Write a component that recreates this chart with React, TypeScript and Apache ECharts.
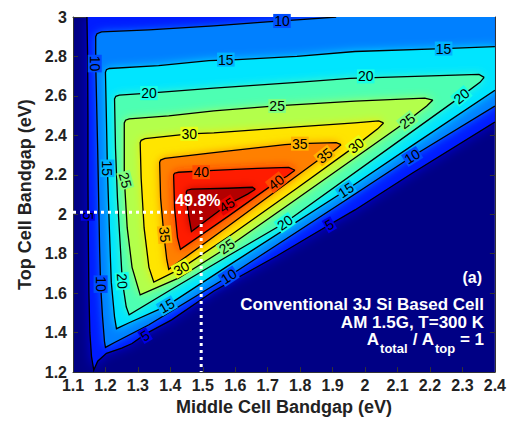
import React, { useEffect, useRef } from 'react';
import * as echarts from 'echarts';

const FONT = "'Liberation Sans', Arial, Helvetica, sans-serif";

// contour levels (efficiency %)
const levels = [5, 10, 15, 20, 25, 30, 35, 40, 45];

// contour lines: [middle cell Eg (eV), top cell Eg (eV)]
const c5 = [[1.143, 3.0], [1.145, 2.8], [1.146, 2.5], [1.146, 2.2], [1.147, 1.9], [1.149, 1.6], [1.152, 1.4], [1.157, 1.28], [1.164, 1.21], [1.176, 1.255], [1.203, 1.295], [1.25, 1.322], [1.282, 1.345], [1.325, 1.395], [1.404, 1.465], [1.534, 1.611], [1.729, 1.79], [1.89, 1.947], [1.969, 2.022], [2.145, 2.208], [2.4, 2.468]];
const c10 = [[1.911, 3.0], [1.79, 2.985], [1.698, 2.975], [1.534, 2.955], [1.334, 2.935], [1.188, 2.925], [1.174, 2.915], [1.17, 2.9], [1.17, 2.764], [1.176, 2.333], [1.182, 1.832], [1.185, 1.646], [1.191, 1.48], [1.197, 1.355], [1.2, 1.325], [1.228, 1.35], [1.334, 1.44], [1.58, 1.686], [1.941, 2.072], [2.145, 2.293], [2.4, 2.549]];
const c15 = [[2.4, 2.85], [2.242, 2.84], [1.969, 2.825], [1.79, 2.8], [1.607, 2.784], [1.519, 2.779], [1.364, 2.754], [1.212, 2.739], [1.203, 2.733], [1.2, 2.72], [1.203, 2.483], [1.206, 2.233], [1.212, 1.932], [1.218, 1.656], [1.228, 1.48], [1.234, 1.42], [1.273, 1.45], [1.389, 1.536], [1.58, 1.741], [1.941, 2.122], [2.154, 2.358], [2.4, 2.629]];
const c20 = [[2.367, 2.694], [2.351, 2.709], [2.154, 2.699], [1.954, 2.689], [1.79, 2.669], [1.534, 2.639], [1.334, 2.614], [1.243, 2.604], [1.232, 2.598], [1.228, 2.585], [1.231, 2.333], [1.237, 2.082], [1.246, 1.832], [1.252, 1.661], [1.264, 1.531], [1.273, 1.49], [1.395, 1.611], [1.58, 1.791], [1.753, 1.957], [2.093, 2.358], [2.297, 2.599], [2.354, 2.669], [2.367, 2.694]];
const c25 = [[2.209, 2.579], [2.184, 2.589], [1.969, 2.574], [1.726, 2.549], [1.534, 2.524], [1.395, 2.4985], [1.273, 2.4835], [1.262, 2.477], [1.258, 2.463], [1.258, 2.1825], [1.267, 1.932], [1.282, 1.731], [1.307, 1.591], [1.425, 1.676], [1.58, 1.8365], [1.79, 2.079], [2.13, 2.473], [2.19, 2.549], [2.209, 2.579]];
const c30 = [[2.057, 2.463], [2.042, 2.473], [1.969, 2.463], [1.79, 2.443], [1.534, 2.413], [1.458, 2.408], [1.322, 2.383], [1.31, 2.375], [1.307, 2.363], [1.31, 2.1825], [1.319, 1.932], [1.334, 1.731], [1.349, 1.656], [1.434, 1.726], [1.58, 1.887], [1.79, 2.132], [1.972, 2.348], [2.039, 2.433], [2.057, 2.463]];
const c35 = [[1.926, 2.353], [1.911, 2.363], [1.799, 2.358], [1.753, 2.353], [1.534, 2.313], [1.383, 2.283], [1.37, 2.275], [1.367, 2.263], [1.37, 2.082], [1.38, 1.897], [1.389, 1.771], [1.395, 1.721], [1.58, 1.942], [1.79, 2.195], [1.875, 2.298], [1.905, 2.323], [1.926, 2.353]];
const c40 = [[1.784, 2.223], [1.765, 2.238], [1.668, 2.233], [1.534, 2.223], [1.425, 2.213], [1.413, 2.208], [1.41, 2.2], [1.413, 2.032], [1.422, 1.882], [1.431, 1.822], [1.58, 1.992], [1.726, 2.163], [1.759, 2.193], [1.784, 2.223]];
const c45 = [[1.662, 2.127], [1.653, 2.137], [1.577, 2.132], [1.465, 2.127], [1.452, 2.122], [1.449, 2.112], [1.455, 2.007], [1.465, 1.912], [1.574, 2.047], [1.638, 2.102], [1.662, 2.127]];

const contours = [c5, c10, c15, c20, c25, c30, c35, c40, c45];
// corners of the frame used to close the contours that leave the plot
const closures = [[[2.4, 3.0]], [[2.4, 3.0]], [], [], [], [], [], [], []];

// inline contour labels: [text, x, y, angle in degrees]
const contourLabels: [string, number, number, number][] = [
  ['10', 1.167, 2.764, -90], ['10', 1.744, 2.98, 0], ['15', 1.571, 2.784, 0], ['15', 2.242, 2.84, 0],
  ['20', 1.334, 2.614, 0], ['20', 2.002, 2.699, 0], ['25', 1.729, 2.549, 0], ['30', 1.458, 2.408, 0],
  ['35', 1.799, 2.358, 0], ['40', 1.495, 2.213, 0], ['15', 1.206, 2.233, -90], ['25', 1.261, 2.173, -75],
  ['5', 1.1456, 1.992, -90], ['10', 1.185, 1.646, -90], ['20', 1.252, 1.661, -85], ['35', 1.3825, 1.897, -85],
  ['30', 1.434, 1.726, 29], ['15', 1.389, 1.536, 30], ['5', 1.322, 1.385, 31], ['10', 1.58, 1.686, 33],
  ['25', 1.574, 1.8365, 35], ['45', 1.574, 2.047, 33], ['20', 1.753, 1.957, 35], ['5', 1.89, 1.947, 30],
  ['40', 1.726, 2.1625, 38], ['35', 1.875, 2.298, 38], ['30', 1.972, 2.348, 38], ['25', 2.13, 2.473, 38],
  ['20', 2.297, 2.599, 40], ['15', 1.941, 2.122, 34], ['10', 2.145, 2.293, 32],
];

// maximum efficiency point
const peakPoint = [1.495, 2.01];
const peakText = '49.8%';

function jet(v: number) {
  const t = Math.max(0, Math.min(1, v / 50));
  const c = (k: number) => Math.round(255 * Math.max(0, Math.min(1, 1.5 - Math.abs(4 * t - k))));
  return `rgb(${c(3)},${c(2)},${c(1)})`;
}

const fmt = (v: number) => String(+v.toFixed(1));
const tickStyle = { show: true, inside: true, length: 5, lineStyle: { color: '#333', width: 1 } };
const lineStyleAxis = { show: true, onZero: false, lineStyle: { color: '#333', width: 1 } };
const labelStyle = { fontSize: 16, fontWeight: 'bold' as const, color: '#222', fontFamily: FONT, formatter: fmt };
const noteStyle = { fill: '#fff', fontSize: 17, fontWeight: 'bold', fontFamily: FONT, align: 'right', verticalAlign: 'middle' };

export default function App() {
  const ref = useRef<HTMLDivElement>(null);
  useEffect(() => {
    const chart = echarts.init(ref.current!, undefined, { renderer: 'svg' });
    const option: any = {
      animation: false,
      backgroundColor: '#fff',
      grid: { left: 73, right: 8, top: 17, bottom: 45, show: true, backgroundColor: '#000085', borderWidth: 0 },
      xAxis: [
        {
          type: 'value', min: 1.1, max: 2.4, interval: 0.1, position: 'bottom',
          name: 'Middle Cell Bandgap (eV)', nameLocation: 'middle', nameGap: 25,
          nameTextStyle: { fontSize: 18, fontWeight: 'bold', color: '#222', fontFamily: FONT },
          axisLine: lineStyleAxis, axisTick: tickStyle, axisLabel: { ...labelStyle, margin: 5 },
          splitLine: { show: false },
        },
        {
          type: 'value', min: 1.1, max: 2.4, interval: 0.1, position: 'top',
          axisLine: lineStyleAxis, axisTick: tickStyle, axisLabel: { show: false }, splitLine: { show: false },
        },
      ],
      yAxis: [
        {
          type: 'value', min: 1.2, max: 3, interval: 0.2, position: 'left',
          name: 'Top Cell Bandgap (eV)', nameLocation: 'middle', nameGap: 36, nameRotate: 90,
          nameTextStyle: { fontSize: 18, fontWeight: 'bold', color: '#222', fontFamily: FONT },
          axisLine: lineStyleAxis, axisTick: tickStyle, axisLabel: { ...labelStyle, margin: 6 },
          splitLine: { show: false },
        },
        {
          type: 'value', min: 1.2, max: 3, interval: 0.2, position: 'right',
          axisLine: lineStyleAxis, axisTick: tickStyle, axisLabel: { show: false }, splitLine: { show: false },
        },
      ],
      series: [
        {
          type: 'custom', name: 'fills', clip: true, silent: true, z: 1,
          data: contours.map((c) => [c[0][0], c[0][1]]),
          renderItem: (params: any, api: any) => {
            const i = params.dataIndex;
            const pts = contours[i].concat(closures[i]).map((p) => api.coord(p));
            const col = jet(levels[i] + 2.5);
            const style: any = { fill: col, stroke: null, shadowBlur: 10, shadowColor: col };
            if (i === 0) { style.shadowBlur = 12; style.shadowColor = 'rgba(0,0,235,0.9)'; }
            return { type: 'polygon', z2: i, shape: { points: pts }, style };
          },
        },
        {
          type: 'custom', name: 'lines', clip: true, silent: true, z: 2,
          data: contours.map((c) => [c[0][0], c[0][1]]),
          renderItem: (params: any, api: any) => {
            const i = params.dataIndex;
            const pts = contours[i].map((p) => api.coord(p));
            return { type: 'polyline', shape: { points: pts }, style: { stroke: '#000', lineWidth: 1.3, fill: null } };
          },
        },
        {
          type: 'custom', name: 'labels', silent: true, z: 3,
          data: contourLabels.map((l) => [l[1], l[2]]),
          renderItem: (params: any, api: any) => {
            const l = contourLabels[params.dataIndex];
            const p = api.coord([l[1], l[2]]);
            return {
              type: 'text', x: p[0], y: p[1], rotation: (l[3] * Math.PI) / 180,
              style: {
                text: l[0], fill: '#000', fontSize: 14, fontFamily: FONT, align: 'center', verticalAlign: 'middle',
                backgroundColor: jet(+l[0]), padding: [0, 1],
              },
            };
          },
        },
        {
          type: 'line', name: 'peak', silent: true, z: 5, symbol: 'none',
          data: [[1.1, peakPoint[1]], peakPoint, [peakPoint[0], 1.2]],
          lineStyle: { color: '#fff', width: 3, type: [3, 4] },
        },
        {
          type: 'custom', name: 'peakLabel', silent: true, z: 6,
          data: [peakPoint],
          renderItem: (params: any, api: any) => {
            const p = api.coord(peakPoint);
            return {
              type: 'text', x: p[0] - 26, y: p[1] - 12,
              style: { text: peakText, fill: '#fff', fontSize: 16, fontWeight: 'bold', fontFamily: FONT, align: 'left', verticalAlign: 'middle' },
            };
          },
        },
      ],
      graphic: [
        { type: 'text', x: 482, y: 277, z: 10, style: { ...noteStyle, text: '(a)', fontSize: 16 } },
        { type: 'text', x: 484, y: 304, z: 10, style: { ...noteStyle, text: 'Conventional 3J Si Based Cell' } },
        { type: 'text', x: 484, y: 322, z: 10, style: { ...noteStyle, text: 'AM 1.5G, T=300 K' } },
        {
          type: 'text', x: 484, y: 331, z: 10,
          style: {
            text: '{b|A}{s|total}{b| / A}{s|top}{b| = 1}', align: 'right', verticalAlign: 'top',
            rich: {
              b: { fill: '#fff', color: '#fff', fontSize: 17, fontWeight: 'bold', fontFamily: FONT, lineHeight: 18, verticalAlign: 'top' },
              s: { fill: '#fff', color: '#fff', fontSize: 13, fontWeight: 'bold', fontFamily: FONT, lineHeight: 14, padding: [11, 0, 0, 1], verticalAlign: 'top' },
            },
          },
        },
      ],
    };
    chart.setOption(option);
    return () => chart.dispose();
  }, []);
  return <div ref={ref} style={{ position: 'fixed', left: 0, top: 0, width: 509, height: 421, background: '#fff' }} />;
}
